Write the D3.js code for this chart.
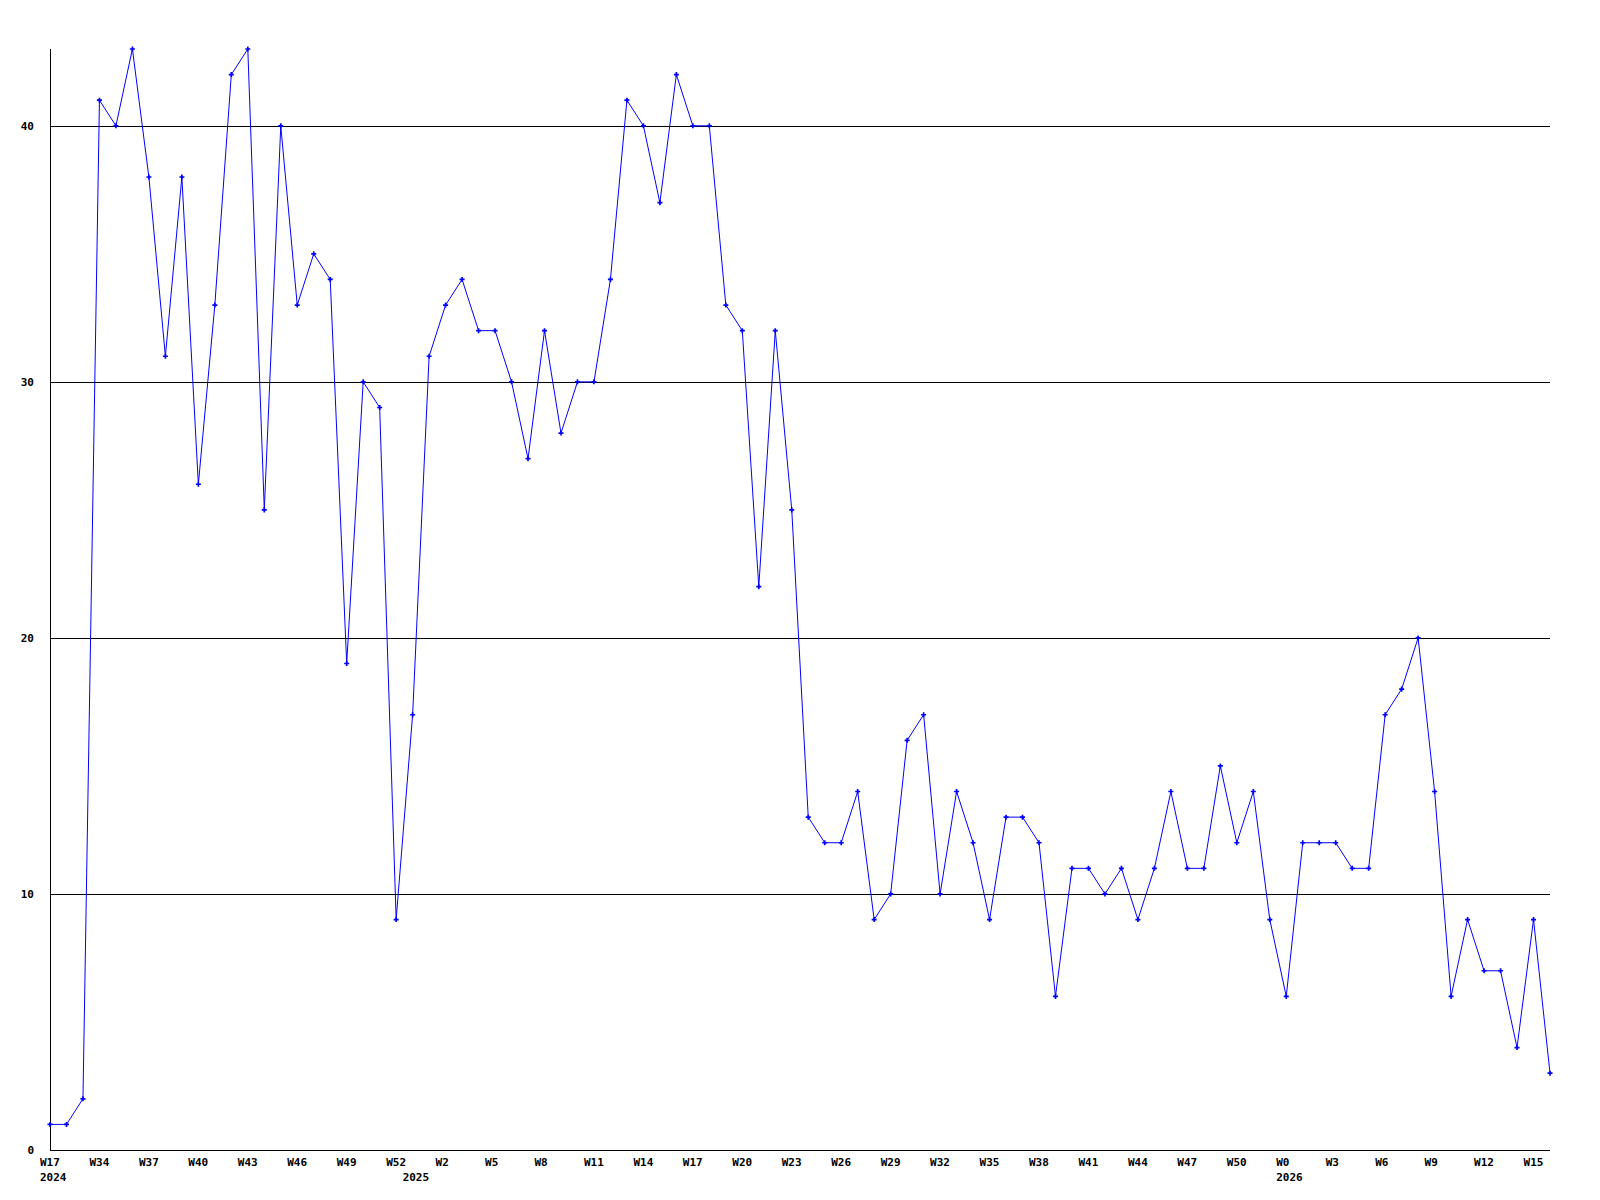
<!DOCTYPE html>
<html>
<head>
<meta charset="utf-8">
<script src="https://cdn.jsdelivr.net/npm/d3@7"></script>
<style>
  body { margin: 0; background: #fff; }
  text { font-family: "DejaVu Sans Mono", monospace; font-weight: bold; font-size: 11px; fill: #000; }
</style>
</head>
<body>
<svg></svg>
<script>
// weekly counts, one point per week (index based x axis)
var weeks = ["W17","W32","W33","W34","W35","W36","W37","W38","W39","W40","W41","W42","W43","W44","W45","W46",
             "W47","W48","W49","W50","W51","W52",
             "W0","W1","W2","W3","W4","W5","W6","W7","W8","W9","W10","W11","W12","W13","W14","W15","W16","W17",
             "W18","W19","W20","W21","W22","W23","W24","W25","W26","W27","W28","W29","W30","W31","W32","W33",
             "W34","W35","W36","W37","W38","W39","W40","W41","W42","W43","W44","W45","W46","W47","W48","W49",
             "W50","W51","W52",
             "W0","W1","W2","W3","W4","W5","W6","W7","W8","W9","W10","W11","W12","W13","W14","W15","W16"];
var values = [1, 1, 2, 41, 40, 43, 38, 31, 38, 26, 33, 42, 43, 25, 40, 33,
              35, 34, 19, 30, 29, 9,
              17, 31, 33, 34, 32, 32, 30, 27, 32, 28, 30, 30, 34, 41, 40, 37, 42, 40,
              40, 33, 32, 22, 32, 25, 13, 12, 12, 14, 9, 10, 16, 17, 10, 14,
              12, 9, 13, 13, 12, 6, 11, 11, 10, 11, 9, 11, 14, 11, 11, 15,
              12, 14, 9,
              6, 12, 12, 12, 11, 11, 17, 18, 20, 14, 6, 9, 7, 7, 4, 9, 3];
// year labels sit under the first week of each year
var years = [{year: "2024", index: 0}, {year: "2025", index: 22}, {year: "2026", index: 75}];
var yTicks = [0, 10, 20, 30, 40];

var margin = {top: 49, right: 50, bottom: 50, left: 50},
    width = 1600 - margin.left - margin.right,
    height = 1200 - margin.top - margin.bottom;

var svg = d3.select("svg")
    .attr("width", 1600)
    .attr("height", 1200)
  .append("g")
    .attr("transform", "translate(" + margin.left + "," + margin.top + ")");

var xScale = d3.scaleLinear()
    .domain([0, values.length - 1])
    .range([0, width]);

var yScale = d3.scaleLinear()
    .domain([0, d3.max(values)])
    .range([height, 0]);

// horizontal grid lines
svg.selectAll(".grid")
    .data(yTicks.filter(function(d) { return d > 0; }))
  .enter().append("line")
    .attr("class", "grid")
    .attr("x1", 0)
    .attr("x2", width)
    .attr("y1", function(d) { return Math.round(yScale(d)) + 0.5; })
    .attr("y2", function(d) { return Math.round(yScale(d)) + 0.5; })
    .attr("stroke", "#000")
    .attr("shape-rendering", "crispEdges");

// y labels
svg.selectAll(".ylabel")
    .data(yTicks)
  .enter().append("text")
    .attr("class", "ylabel")
    .attr("x", -16)
    .attr("y", function(d) { return yScale(d); })
    .attr("dy", "0.35em")
    .style("text-anchor", "end")
    .text(function(d) { return d; });

// axes lines
svg.append("line")
    .attr("x1", 0.5).attr("x2", 0.5)
    .attr("y1", 0).attr("y2", height)
    .attr("stroke", "#000")
    .attr("shape-rendering", "crispEdges");
svg.append("line")
    .attr("x1", 0).attr("x2", width)
    .attr("y1", height + 0.5).attr("y2", height + 0.5)
    .attr("stroke", "#000")
    .attr("shape-rendering", "crispEdges");

// week labels every 3rd point
var tickIdx = d3.range(0, values.length, 3);
svg.selectAll(".xlabel")
    .data(tickIdx)
  .enter().append("text")
    .attr("class", "xlabel")
    .attr("x", function(i) { return xScale(i) - 10; })
    .attr("y", height + 16)
    .text(function(i) { return weeks[i]; });

svg.selectAll(".year")
    .data(years)
  .enter().append("text")
    .attr("class", "year")
    .attr("x", function(d) { return xScale(d.index) - 10; })
    .attr("y", height + 31)
    .text(function(d) { return d.year; });

var line = d3.line()
    .x(function(d, i) { return xScale(i); })
    .y(function(d) { return yScale(d); });

svg.append("path")
    .datum(values)
    .attr("d", line)
    .attr("fill", "none")
    .attr("stroke", "#0000ff")
    .attr("stroke-width", 1);

// small markers on each point
var marker = d3.symbol().type(d3.symbolCross).size(14);
svg.selectAll(".pt")
    .data(values)
  .enter().append("path")
    .attr("class", "pt")
    .attr("transform", function(d, i) { return "translate(" + xScale(i) + "," + yScale(d) + ")"; })
    .attr("d", marker)
    .attr("fill", "#0000ff");
</script>
</body>
</html>
